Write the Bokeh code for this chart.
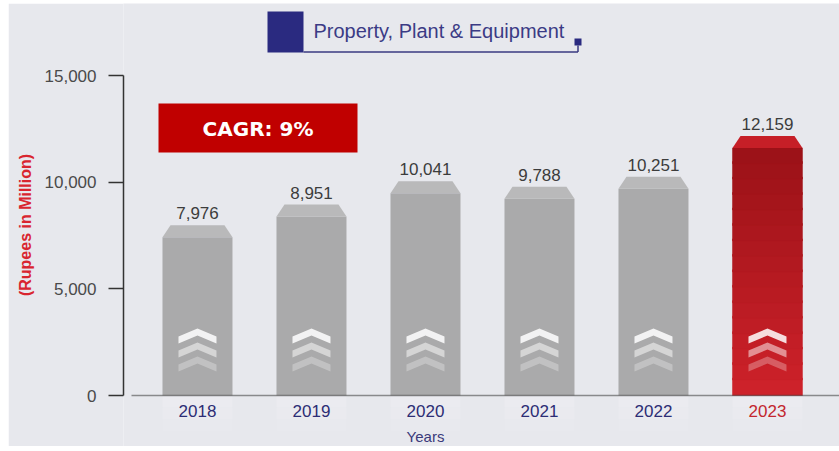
import numpy as np
from bokeh.plotting import figure
from bokeh.layouts import row, column
from bokeh.models import Range1d, FixedTicker, NumeralTickFormatter, ColumnDataSource, Spacer
from bokeh.core.properties import value
from bokeh.embed import file_html
from bokeh.resources import INLINE

# ---------------- data ----------------
years = ["2018", "2019", "2020", "2021", "2022", "2023"]
ppe = [7976, 8951, 10041, 9788, 10251, 12159]
y_ticks = [0, 5000, 10000, 15000]
title_text = "Property, Plant & Equipment"
cagr_text = "CAGR: 9%"
y_label = "(Rupees in Million)"
x_label = "Years"

# ---------------- layout ----------------
OFF_X, OFF_Y = 8, 3          # white page margin seen in the reference
W, H = 839 - OFF_X, 446 - OFF_Y
LEFT = 115                   # frame left edge (figure px)
BASE = 392                   # y = 0 position (figure px)
PX_Y = 320.0 / 15000.0       # px per unit
Y1 = BASE / PX_Y
Y0 = -(H - BASE) / PX_Y
X0 = -0.649
PX_X = 114.0
X1 = X0 + (W - LEFT) / PX_X


def dx(px):
    return px / PX_X


def dy(px):
    return px / PX_Y


def sx(screen_x):  # page pixel -> data x
    return X0 + (screen_x - OFF_X - LEFT) / PX_X


def sy(screen_y):  # page pixel -> data y
    return Y1 - (screen_y - OFF_Y) / PX_Y


BG = "#e7e8ed"
p = figure(width=W, height=H, x_range=Range1d(X0, X1), y_range=Range1d(Y0, Y1),
           output_backend="svg", toolbar_location=None, x_axis_type=None,
           min_border_left=LEFT, min_border_right=0, min_border_top=0, min_border_bottom=0,
           background_fill_color=BG, border_fill_color=BG)
p.outline_line_color = None
p.grid.visible = False

# y axis
ya = p.yaxis[0]
ya.bounds = (0, 15000)
ya.ticker = FixedTicker(ticks=y_ticks)
ya.formatter = NumeralTickFormatter(format="0,0")
ya.major_tick_out = 15
ya.major_tick_in = 0
ya.minor_tick_out = 0
ya.minor_tick_in = 0
ya.axis_line_color = "#333333"
ya.axis_line_width = 1.5
ya.major_tick_line_color = "#333333"
ya.major_tick_line_width = 1.5
ya.major_label_standoff = 12
ya.major_label_text_font = "Liberation Sans"
ya.major_label_text_font_size = "17px"
ya.major_label_text_color = "#4a4a4a"
ya.axis_label = y_label
ya.axis_label_text_font = "Liberation Sans"
ya.axis_label_text_font_style = "bold"
ya.axis_label_text_font_size = "16px"
ya.axis_label_text_color = "#d9252f"
ya.axis_label_standoff = 8

xs = np.arange(len(years), dtype=float)
vals = np.array(ppe, dtype=float)
bw = 0.614
bev = dy(12)
inset = dx(8)
is_last = np.arange(len(years)) == len(years) - 1

# soft reflections below baseline
for k, a in enumerate([0.16, 0.12, 0.08]):
    p.quad(left=xs - bw / 2, right=xs + bw / 2, bottom=-dy(12 * (k + 1)), top=-dy(12 * k),
           fill_color="white", fill_alpha=a, line_color=None)

# gray bar bodies
g = ~is_last
p.quad(left=(xs - bw / 2)[g], right=(xs + bw / 2)[g], bottom=0, top=(vals - bev)[g],
       fill_color="#aaaaab", line_color=None)
# gray bevels
bev_xs = [[x - bw / 2, x - bw / 2 + inset, x + bw / 2 - inset, x + bw / 2] for x in xs]
bev_ys = [[v - bev, v, v, v - bev] for v in vals]
p.patches(xs=[b for b, k in zip(bev_xs, g) if k], ys=[b for b, k in zip(bev_ys, g) if k],
          fill_color="#b9b9ba", line_color=None)

# red bar with vertical gradient
xl = xs[is_last][0]
vl = vals[is_last][0]
n = 16
top_c = np.array([0x9c, 0x12, 0x18])
bot_c = np.array([0xcd, 0x22, 0x2a])
edges = np.linspace(0, vl - bev, n + 1)
cols = []
for i in range(n):
    t = i / (n - 1)
    c = (bot_c * (1 - t) + top_c * t).astype(int)
    cols.append("#%02x%02x%02x" % tuple(c))
p.quad(left=xl - bw / 2, right=xl + bw / 2, bottom=edges[:-1], top=np.minimum(edges[1:] + dy(2), vl - bev),
       fill_color=cols, line_color=cols, line_width=0.5)
p.patch(x=bev_xs[-1], y=bev_ys[-1], fill_color="#c61f27", line_color=None)

# chevrons
hw = dx(19)
drop = dy(8)
thick = dy(7)
apex0 = dy(395 - 328)
step = dy(14)
alphas = [0.85, 0.5, 0.28]
cx_list, cy_list, ca_list = [], [], []
for x in xs:
    for k in range(3):
        a = apex0 - k * step
        cx_list.append([x - hw, x, x + hw, x + hw, x, x - hw])
        cy_list.append([a - drop, a, a - drop, a - drop - thick, a - thick, a - drop - thick])
        ca_list.append(alphas[k])
p.patches(xs=cx_list, ys=cy_list, fill_color="white", fill_alpha=ca_list, line_color=None)

# baseline
p.segment(x0=X0 + dx(8), y0=0, x1=X1, y1=0, line_color="#3a3a3a", line_alpha=0.55, line_width=1.5)

# value labels
lab = ColumnDataSource(dict(x=xs, y=vals, t=["{:,}".format(v) for v in ppe]))
p.text(x="x", y="y", text="t", source=lab, y_offset=-6, text_align="center",
       text_baseline="bottom", text_font=value("Liberation Sans"), text_font_size="17px",
       text_color="#3c3c3c")

# year labels
ycols = ["#2d2d75"] * (len(years) - 1) + ["#c3262e"]
yl = ColumnDataSource(dict(x=xs, t=years, c=ycols))
p.text(x="x", y=-dy(15), text="t", source=yl, text_color="c", text_align="center",
       text_baseline="middle", text_font=value("Liberation Sans"), text_font_size="17px")
p.text(x=[2.0], y=[-dy(41)], text=[x_label], text_align="center", text_baseline="middle",
       text_font=value("Liberation Sans"), text_font_size="15px", text_color="#3a3a7a")

# CAGR box
p.quad(left=sx(158), right=sx(357), bottom=sy(152), top=sy(103),
       fill_color="#c00000", line_color=None)
p.text(x=[(sx(158) + sx(357)) / 2], y=[sy(128)], text=[cagr_text], text_align="center",
       text_baseline="middle", text_font=value("DejaVu Sans"), text_font_style="bold",
       text_font_size="20px", text_color="white")

# title block
p.quad(left=sx(267), right=sx(303), bottom=sy(52), top=sy(11), fill_color="#2a2a80", line_color=None)
p.segment(x0=sx(303), y0=sy(51.5), x1=sx(577.5), y1=sy(51.5), line_color="#3a3a80", line_width=1.5)
p.segment(x0=sx(577.5), y0=sy(45), x1=sx(577.5), y1=sy(51.5), line_color="#3a3a80", line_width=1.5)
p.quad(left=sx(574), right=sx(581), bottom=sy(45), top=sy(38), fill_color="#2a2a80", line_color=None)
p.text(x=[sx(313)], y=[sy(30)], text=[title_text], text_align="left", text_baseline="middle",
       text_font=value("Liberation Sans"), text_font_size="20px", text_color="#3b3b85")

layout = column(Spacer(width=W, height=OFF_Y), row(Spacer(width=OFF_X, height=H), p))
open("out.html", "w").write(file_html(layout, INLINE))
